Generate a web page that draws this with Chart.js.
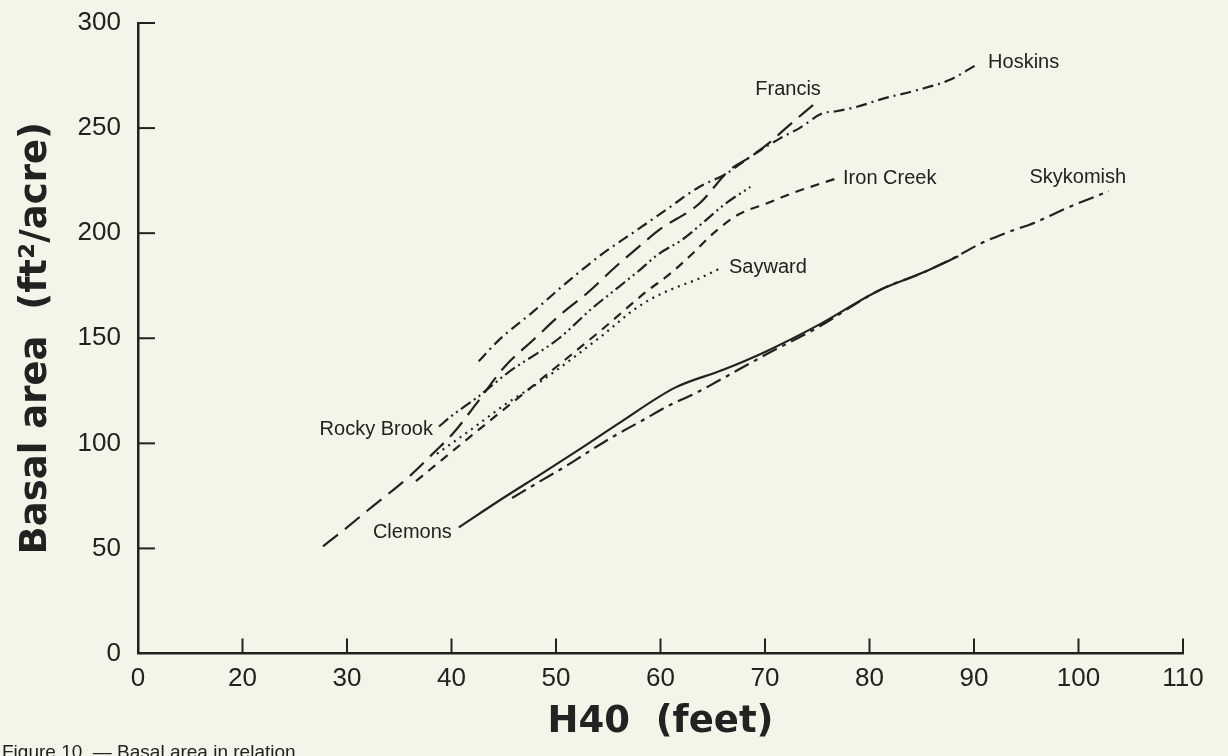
<!DOCTYPE html>
<html>
<head>
<meta charset="utf-8">
<script src="https://cdn.jsdelivr.net/npm/chart.js@4/dist/chart.umd.min.js"></script>
<style>
    html, body { margin: 0; padding: 0; background: #f4f4e8; overflow: hidden; }
    #wrap { position: relative; width: 1228px; height: 756px; }
    #caption {
        position: absolute; left: 2px; top: 741px;
        font: 19px 'Liberation Sans', Arial, sans-serif; color: #222; white-space: nowrap;
    }
</style>
</head>
<body>
<div id="wrap">
    <canvas id="basalChart"></canvas>
    <div id="caption">Figure 10. — Basal area in relation</div>
</div>
<script>
const ctx = document.getElementById('basalChart').getContext('2d')

const INK = '#222'

// axis ticks (x axis is broken: the first tick is labelled 0 but sits where 10 would be)
const xTickValues = [10, 20, 30, 40, 50, 60, 70, 80, 90, 100, 110]
const yTickValues = [0, 50, 100, 150, 200, 250, 300]

// H40 (feet) / basal area (ft2/acre)
const hoskinsH40 = [42.6, 44.5, 47.9, 50.9, 54.4, 57.9, 60.5, 63.7, 66.2, 68.5, 71.4, 73.3, 75.5, 76.8, 78.7, 81.3, 84.5, 87.7, 90.2]
const hoskinsBA = [139, 149, 163, 176, 190, 202, 211, 222, 228, 236, 245, 250, 257, 258, 260, 264, 268, 273, 280]

const francisH40 = [27.7, 29.5, 32.2, 35.9, 38.4, 40.2, 42.4, 45.0, 48.0, 50.6, 53.1, 55.7, 57.8, 60.0, 63.7, 66.6, 68.5, 70.4, 72.0, 74.6]
const francisBA = [51, 58, 69, 84, 96, 105, 119, 136, 150, 162, 172, 184, 193, 202, 214, 230, 236, 243, 250, 261]

const rockyBrookH40 = [38.8, 40.0, 42.5, 45.5, 50.3, 53.4, 55.9, 57.9, 59.8, 62.1, 64.3, 66.2, 68.6]
const rockyBrookBA = [108, 113, 122, 134, 150, 164, 174, 182, 190, 197, 206, 214, 222]

const ironCreekH40 = [36.6, 42.0, 48.7, 54.6, 58.6, 61.0, 63.0, 65.3, 67.5, 70.1, 72.6, 76.8]
const ironCreekBA = [82, 104, 131, 155, 172, 181, 190, 201, 209, 214, 219, 226]

const saywardH40 = [38.6, 42.0, 45.0, 48.7, 54.6, 57.3, 59.2, 61.4, 63.5, 65.6]
const saywardBA = [95, 107, 118, 130, 152, 163, 169, 174, 178, 183]

const clemonsH40 = [40.7, 44.8, 48.6, 52.2, 56.0, 61.4, 66.0, 70.0, 75.0, 81.0, 85.0, 88.5]
const clemonsBA = [60, 73.5, 85.5, 97, 109.5, 126.5, 135, 143.5, 156, 173, 181, 189]

const skykomishH40 = [45.8, 48.5, 50.9, 52.8, 55.4, 58.3, 60.8, 63.4, 66.0, 70.0, 75.0, 81.0, 85.0, 88.0, 90.6, 93.0, 95.8, 98.9, 102.9]
const skykomishBA = [74, 82, 89, 95, 103, 111, 118, 124, 131, 142, 155, 173, 181, 188, 195, 200, 205, 212, 220]

function points(xs, ys) {
    return xs.map((x, i) => ({ x: x, y: ys[i] }))
}

function curve(label, xs, ys, dash) {
    return {
        label: label,
        data: points(xs, ys),
        borderColor: INK,
        borderWidth: 2.2,
        borderDash: dash,
        pointRadius: 0,
        cubicInterpolationMode: 'monotone',
        fill: false
    }
}

// where each name sits relative to the first/last point of its curve
const nameTags = [
    { text: 'Hoskins', ds: 0, end: 'last', dx: 12, dy: -3, align: 'left' },
    { text: 'Francis', ds: 1, end: 'last', dx: -25, dy: -15, align: 'center' },
    { text: 'Rocky Brook', ds: 2, end: 'first', dx: -6, dy: 3, align: 'right' },
    { text: 'Iron Creek', ds: 3, end: 'last', dx: 7, dy: 0, align: 'left' },
    { text: 'Sayward', ds: 4, end: 'last', dx: 10, dy: -1, align: 'left' },
    { text: 'Clemons', ds: 5, end: 'first', dx: -7, dy: 5, align: 'right' },
    { text: 'Skykomish', ds: 6, end: 'last', dx: -31, dy: -14, align: 'center' }
]

const nameTagPlugin = {
    id: 'nameTags',
    afterDatasetsDraw(chart) {
        const c = chart.ctx
        c.save()
        c.font = '20px "Liberation Sans", Arial, sans-serif'
        c.fillStyle = INK
        c.textBaseline = 'middle'
        nameTags.forEach(tag => {
            const pts = chart.getDatasetMeta(tag.ds).data
            const p = tag.end === 'last' ? pts[pts.length - 1] : pts[0]
            c.textAlign = tag.align
            c.fillText(tag.text, p.x + tag.dx, p.y + tag.dy)
        })
        c.restore()
    }
}

// short tick marks pointing into the plot, like the original figure
const inwardTicks = {
    id: 'inwardTicks',
    afterDatasetsDraw(chart) {
        const c = chart.ctx
        const area = chart.chartArea
        const { x, y } = chart.scales
        c.save()
        c.strokeStyle = INK
        c.lineWidth = 2
        xTickValues.slice(1).forEach(v => {
            const px = x.getPixelForValue(v)
            c.beginPath()
            c.moveTo(px, area.bottom)
            c.lineTo(px, area.bottom - 15)
            c.stroke()
        })
        yTickValues.slice(1).forEach(v => {
            const py = y.getPixelForValue(v)
            c.beginPath()
            c.moveTo(area.left, py)
            c.lineTo(area.left + 17, py)
            c.stroke()
        })
        c.restore()
    }
}

const tickFont = { family: '"Liberation Sans", Arial, sans-serif', size: 26 }
const titleFont = { family: '"DejaVu Sans", sans-serif', size: 37, weight: 'bold' }

new Chart(ctx, {
    type: 'line',
    data: {
        datasets: [
            curve('Hoskins', hoskinsH40, hoskinsBA, [11, 5, 2, 5]),
            curve('Francis', francisH40, francisBA, [19, 9]),
            curve('Rocky Brook', rockyBrookH40, rockyBrookBA, [12, 4, 2, 4, 2, 4]),
            curve('Iron Creek', ironCreekH40, ironCreekBA, [9, 7]),
            curve('Sayward', saywardH40, saywardBA, [2, 5]),
            curve('Clemons', clemonsH40, clemonsBA, []),
            curve('Skykomish', skykomishH40, skykomishBA, [16, 6, 4, 6])
        ]
    },
    options: {
        responsive: true,
        maintainAspectRatio: false,
        animation: false,
        layout: { padding: { left: 0, right: 45, top: 23, bottom: 0 } },
        plugins: {
            legend: { display: false },
            tooltip: { enabled: false }
        },
        scales: {
            x: {
                type: 'linear',
                min: 10,
                max: 110,
                afterBuildTicks: scale => { scale.ticks = xTickValues.map(v => ({ value: v })) },
                afterFit: scale => {
                    scale.height = 102.5
                    scale.paddingLeft = 0
                    scale.paddingRight = 0
                },
                grid: { drawOnChartArea: false, drawTicks: false },
                border: { display: true, color: INK, width: 2.5 },
                ticks: {
                    color: INK,
                    font: tickFont,
                    padding: 10,
                    maxRotation: 0,
                    callback: v => v === 10 ? '0' : String(v)
                },
                title: {
                    display: true,
                    text: 'H40  (feet)',
                    color: INK,
                    font: titleFont,
                    padding: { top: 0, bottom: 11 }
                }
            },
            y: {
                type: 'linear',
                min: 0,
                max: 300,
                afterBuildTicks: scale => { scale.ticks = yTickValues.map(v => ({ value: v })) },
                afterFit: scale => {
                    // keep the plot box fixed; tick labels may hang over the edges
                    scale.width = 138
                    scale.paddingTop = 0
                    scale.paddingBottom = 0
                },
                grid: { drawOnChartArea: false, drawTicks: false },
                border: { display: true, color: INK, width: 2.5 },
                ticks: {
                    color: INK,
                    font: tickFont,
                    padding: 17
                },
                title: {
                    display: true,
                    text: 'Basal area  (ft²/acre)',
                    color: INK,
                    font: titleFont,
                    padding: { top: 14, bottom: 0 }
                }
            }
        }
    },
    plugins: [inwardTicks, nameTagPlugin]
})
</script>
</body>
</html>
